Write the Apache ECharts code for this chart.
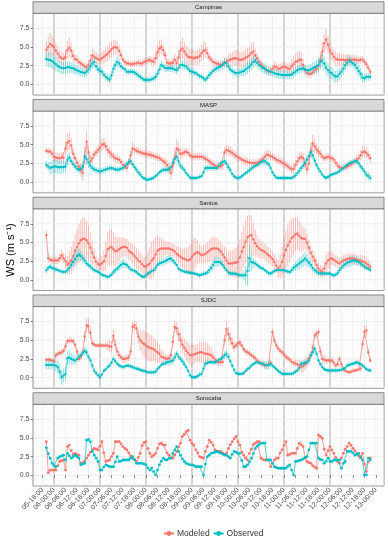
<!DOCTYPE html>
<html><head><meta charset="utf-8">
<script src="https://cdn.jsdelivr.net/npm/echarts@6/dist/echarts.min.js"></script>
<style>html,body{margin:0;padding:0;background:#fff}#c{width:388px;height:538px}</style>
</head><body><div id="c"></div>
<script>
// hours counted from 05-00:00; hourly data start at 05-20:00
const START_HOUR = 20;
const stations = ['Campinas', 'MASP', 'Santos', 'SJDC', 'Sorocaba'];
const tickHours = [18,24,30,36,42,48,54,60,66,72,78,84,90,96,102,108,114,120,126,132,138,144,150,156,162,168,174,180,186,192];
const tickLabels = ['05-18:00','06-00:00','06-06:00','06-12:00','06-18:00','07-00:00','07-06:00','07-12:00','07-18:00','08-00:00','08-06:00','08-12:00','08-18:00','09-00:00','09-06:00','09-12:00','09-18:00','10-00:00','10-06:00','10-12:00','10-18:00','11-00:00','11-06:00','11-12:00','11-18:00','12-00:00','12-06:00','12-12:00','12-18:00','13-00:00'];
const midnightHours = [24,48,72,96,120,144,168];
const yTicks = [0, 2.5, 5, 7.5];
const yMinorTicks = [-1.25, 1.25, 3.75, 6.25, 8.75];

const campinasModeled = [4.6,5.0,5.4,5.2,5.0,4.5,4.1,3.7,3.5,3.4,
 3.6,4.6,4.9,4.5,3.8,3.4,3.3,3.0,2.8,2.6,
 2.4,2.3,2.6,3.2,3.9,3.7,3.5,3.4,3.3,3.5,
 3.7,3.9,4.1,4.4,4.7,4.9,5.0,4.9,4.5,3.9,
 3.3,3.0,2.8,2.8,2.7,2.7,2.8,2.8,2.9,2.8,
 2.8,3.0,3.1,3.2,3.3,3.1,3.0,3.5,4.3,4.8,
 5.0,4.6,3.9,2.9,2.8,2.8,2.9,3.3,2.8,3.6,
 4.5,4.8,4.4,4.0,3.7,3.6,3.6,3.5,3.6,3.6,
 3.8,4.2,4.5,4.6,4.2,3.6,3.3,3.0,2.9,2.8,
 2.7,2.6,2.7,2.9,3.0,3.2,3.3,3.4,3.5,3.5,
 3.4,3.3,3.3,3.4,3.6,3.7,3.9,4.2,4.4,3.9,
 3.5,3.0,2.7,2.4,2.1,1.9,1.7,1.8,2.1,2.4,
 2.3,2.1,2.1,2.3,2.4,2.3,2.1,2.1,2.4,2.7,
 3.0,3.1,3.3,3.3,2.6,1.9,1.5,1.4,1.4,1.6,
 1.9,2.1,2.5,3.3,4.4,5.5,6.0,5.3,4.5,4.1,
 3.7,3.4,3.3,3.3,3.3,3.3,3.2,3.3,3.3,3.3,
 3.3,3.3,3.3,3.2,3.3,3.3,3.0,2.7,2.2,1.7];
const campinasModeledErr = [1.2,1.4,1.5,1.3,1.2,1.0,0.9,0.8,0.8,0.8,
 1.0,1.2,1.3,1.1,0.8,0.6,0.6,0.5,0.5,0.5,
 0.5,0.5,0.6,0.8,0.9,0.8,0.8,0.7,0.7,0.8,
 0.9,1.0,1.0,1.1,1.1,1.0,1.0,0.9,0.8,0.6,
 0.4,0.4,0.4,0.4,0.4,0.4,0.4,0.4,0.5,0.5,
 0.5,0.5,0.5,0.5,0.5,0.6,0.7,0.9,1.0,1.1,
 1.0,0.8,0.6,0.5,0.5,0.5,0.6,0.8,0.9,1.0,
 1.3,1.4,1.3,1.2,1.2,1.1,1.1,1.0,1.0,1.0,
 1.0,1.1,1.2,1.0,0.8,0.6,0.5,0.5,0.5,0.5,
 0.5,0.5,0.5,0.6,0.7,0.8,0.9,1.0,1.0,1.1,
 1.1,1.0,1.0,1.0,1.1,1.2,1.2,1.3,1.3,1.0,
 0.8,0.6,0.6,0.5,0.5,0.5,0.5,0.5,0.5,0.6,
 0.6,0.6,0.6,0.6,0.6,0.6,0.7,0.8,1.0,1.0,
 1.0,1.2,1.2,1.0,0.8,0.6,0.5,0.5,0.5,0.5,
 0.6,0.7,0.8,1.0,1.2,1.2,1.4,1.2,1.0,0.9,
 0.9,0.9,0.9,0.9,0.8,0.8,0.8,0.8,0.7,0.7,
 0.6,0.6,0.6,0.5,0.5,0.5,0.5,0.5,0.4,0.4];
const campinasObserved = [3.4,3.3,3.25,3.1,2.9,2.7,2.45,2.3,2.2,2.15,
 2.2,2.3,2.3,2.2,2.15,2.0,1.9,1.75,1.65,1.6,
 1.5,1.7,2.0,2.4,2.8,3.0,2.4,2.0,1.8,1.7,
 1.3,1.0,0.8,0.6,1.2,2.1,2.6,3.0,2.8,2.4,
 2.2,2.0,1.7,1.7,1.7,1.7,1.6,1.4,1.2,1.0,
 0.8,0.6,0.6,0.6,0.6,0.7,0.8,1.0,1.4,2.0,
 2.6,2.4,2.2,2.15,2.15,2.15,2.1,2.0,1.9,2.2,
 2.6,2.6,2.5,2.4,2.1,1.8,1.7,1.6,1.5,1.3,
 1.1,1.0,0.8,0.6,0.9,1.25,1.5,1.8,2.0,2.15,
 2.3,2.45,2.6,2.9,2.8,2.4,2.0,1.8,1.6,1.5,
 1.5,1.6,1.7,1.8,2.0,2.2,2.4,2.7,3.0,3.2,
 2.9,2.6,2.4,2.2,2.1,1.9,1.8,1.7,1.6,1.5,
 1.4,1.35,1.3,1.25,1.25,1.25,1.25,1.25,1.3,1.5,
 1.7,1.9,2.0,2.1,2.15,2.0,1.9,1.9,2.0,2.15,
 2.3,2.4,2.6,3.0,3.2,2.8,2.2,1.9,1.6,1.5,
 1.2,1.0,1.1,1.4,1.7,2.1,2.6,2.9,3.2,3.0,
 2.8,2.6,2.2,1.8,1.4,0.9,0.8,1.0,1.0,1.0];
const campinasObservedErr = [0.9,1.0,1.0,1.0,0.9,0.9,0.8,0.8,0.8,0.8,
 0.8,0.8,0.8,0.7,0.7,0.7,0.6,0.6,0.6,0.6,
 0.6,0.6,0.6,0.7,0.7,0.7,0.6,0.6,0.6,0.6,
 0.5,0.5,0.5,0.5,0.6,0.7,0.7,0.7,0.6,0.5,
 0.4,0.4,0.4,0.4,0.4,0.4,0.4,0.4,0.4,0.4,
 0.4,0.4,0.4,0.4,0.4,0.4,0.4,0.5,0.5,0.6,
 0.6,0.5,0.5,0.5,0.5,0.5,0.5,0.5,0.5,0.5,
 0.6,0.6,0.6,0.5,0.5,0.5,0.5,0.5,0.4,0.4,
 0.4,0.4,0.4,0.4,0.4,0.5,0.5,0.5,0.5,0.5,
 0.6,0.6,0.6,0.6,0.6,0.5,0.5,0.5,0.5,0.5,
 0.6,0.6,0.6,0.7,0.8,0.8,0.8,0.8,0.8,0.8,
 0.7,0.7,0.7,0.7,0.7,0.6,0.6,0.6,0.6,0.6,
 0.6,0.6,0.6,0.6,0.6,0.6,0.6,0.6,0.6,0.6,
 0.6,0.6,0.6,0.6,0.6,0.6,0.6,0.7,0.7,0.8,
 0.8,0.9,0.9,0.9,0.9,0.9,0.9,0.9,0.8,0.8,
 0.8,0.8,0.8,0.8,0.8,0.8,0.7,0.7,0.7,0.7,
 0.7,0.7,0.8,0.8,0.8,0.7,0.6,0.5,0.5,0.5];

const maspModeled = [4.2,4.1,4.1,3.8,3.4,3.3,3.2,3.2,3.3,3.3,
 4.5,5.3,5.5,4.9,3.8,3.2,2.6,2.1,1.6,1.2,
 3.5,5.4,4.0,2.8,3.2,3.7,4.0,4.3,4.6,5.0,
 5.1,4.8,4.3,4.0,3.7,3.4,3.2,3.1,3.0,2.7,
 2.3,2.1,1.9,2.6,3.6,4.5,4.4,4.2,4.1,4.0,
 3.9,3.8,3.8,3.7,3.7,3.6,3.5,3.4,3.3,3.2,
 3.0,2.8,2.6,2.3,1.8,1.2,2.2,3.4,4.5,4.3,
 3.8,3.8,4.0,4.1,3.9,3.6,3.4,3.4,3.4,3.4,
 3.4,3.4,3.3,3.1,3.0,2.8,2.6,2.4,2.2,2.1,
 2.1,2.1,2.3,4.0,4.3,4.2,4.1,3.9,3.7,3.5,
 3.3,3.2,3.0,2.9,2.8,2.7,2.6,2.55,2.55,2.55,
 2.6,2.7,2.9,3.1,3.4,3.7,3.6,3.5,3.4,3.2,
 3.0,2.9,2.8,2.6,2.5,2.3,2.1,1.9,1.7,1.8,
 2.3,2.8,3.2,3.4,3.2,2.4,1.7,2.5,4.2,5.2,
 4.8,4.4,4.1,3.8,3.4,3.2,3.3,3.4,3.3,3.2,
 3.0,2.6,2.2,2.0,1.9,1.9,2.0,2.1,2.2,2.4,
 2.6,2.8,3.0,3.2,3.6,4.0,4.1,3.9,3.6,3.2];
const maspModeledErr = [0.4,0.4,0.5,0.6,0.7,0.7,0.7,0.7,0.7,0.7,
 0.9,1.2,1.2,1.0,0.8,0.7,0.7,0.8,0.9,1.0,
 1.2,1.4,1.0,0.8,0.7,0.6,0.6,0.6,0.7,0.8,
 0.8,0.7,0.7,0.7,0.6,0.6,0.6,0.6,0.5,0.5,
 0.5,0.5,0.5,0.6,0.7,0.8,0.6,0.5,0.5,0.5,
 0.5,0.5,0.5,0.5,0.5,0.5,0.5,0.5,0.5,0.5,
 0.5,0.5,0.6,0.7,0.8,0.9,1.0,1.1,1.2,1.0,
 0.8,0.6,0.5,0.5,0.5,0.5,0.5,0.5,0.5,0.5,
 0.5,0.5,0.5,0.5,0.5,0.5,0.5,0.5,0.5,0.5,
 0.5,0.5,0.6,0.7,0.7,0.7,0.7,0.6,0.6,0.6,
 0.6,0.5,0.5,0.5,0.5,0.5,0.5,0.5,0.5,0.5,
 0.5,0.5,0.5,0.6,0.7,0.7,0.6,0.6,0.5,0.5,
 0.5,0.5,0.5,0.5,0.5,0.5,0.5,0.5,0.6,0.7,
 0.7,0.7,0.7,0.7,0.7,0.7,0.8,0.9,1.0,1.1,
 1.0,0.8,0.7,0.6,0.5,0.5,0.5,0.5,0.5,0.5,
 0.5,0.5,0.5,0.5,0.5,0.5,0.5,0.5,0.5,0.5,
 0.5,0.5,0.6,0.6,0.7,0.8,0.8,0.7,0.6,0.6];
const maspObserved = [2.3,2.1,1.9,2.0,2.1,2.1,2.0,2.0,2.0,2.0,
 2.1,3.0,3.3,2.8,2.4,2.1,1.8,1.65,1.8,2.1,
 3.4,3.1,2.6,2.2,1.9,1.7,1.6,1.5,1.4,1.5,
 1.6,1.7,1.8,1.85,1.9,1.8,1.7,1.65,1.7,1.8,
 1.9,2.1,2.4,2.7,2.8,2.4,2.0,1.65,1.3,1.0,
 0.7,0.5,0.35,0.3,0.4,0.45,0.6,0.8,1.0,1.3,
 1.5,1.65,1.65,1.65,1.7,2.0,2.6,3.1,3.4,2.8,
 2.2,1.9,1.6,1.2,0.9,0.6,0.55,0.55,0.55,0.6,
 0.7,0.8,1.3,1.9,1.9,1.9,1.9,1.9,1.9,1.9,
 2.2,2.5,2.7,2.8,2.5,2.0,1.6,1.1,0.75,0.6,
 0.55,0.6,0.8,1.0,1.2,1.4,1.6,1.8,2.0,2.2,
 2.3,2.5,2.7,2.8,2.8,2.6,2.4,1.9,1.3,0.9,
 0.6,0.55,0.55,0.55,0.55,0.55,0.55,0.55,0.55,0.7,
 0.9,1.2,1.5,1.9,2.2,2.6,3.0,3.5,4.0,3.6,
 2.9,2.3,1.8,1.4,1.0,0.7,0.55,0.7,0.9,1.0,
 1.1,1.2,1.3,1.5,1.7,1.9,2.1,2.3,2.5,2.6,
 2.7,2.8,2.8,2.5,2.1,1.8,1.4,1.0,0.8,0.55];
const maspObservedErr = [0.5,0.6,0.8,0.9,0.9,0.9,0.9,0.9,0.9,0.8,
 0.7,0.7,0.6,0.5,0.5,0.5,0.5,0.5,0.6,0.7,
 0.8,0.8,0.7,0.6,0.5,0.5,0.4,0.4,0.4,0.4,
 0.4,0.4,0.4,0.4,0.4,0.4,0.4,0.4,0.4,0.4,
 0.4,0.4,0.4,0.4,0.4,0.4,0.4,0.4,0.4,0.4,
 0.3,0.3,0.3,0.3,0.3,0.3,0.3,0.3,0.3,0.3,
 0.4,0.4,0.4,0.4,0.5,0.5,0.6,0.6,0.6,0.5,
 0.4,0.4,0.4,0.3,0.3,0.3,0.3,0.3,0.3,0.3,
 0.3,0.3,0.4,0.4,0.4,0.4,0.4,0.4,0.4,0.4,
 0.5,0.5,0.5,0.5,0.5,0.4,0.4,0.3,0.3,0.3,
 0.3,0.3,0.3,0.3,0.3,0.4,0.4,0.4,0.4,0.4,
 0.4,0.5,0.5,0.5,0.5,0.5,0.4,0.4,0.3,0.3,
 0.3,0.3,0.3,0.3,0.3,0.3,0.3,0.3,0.3,0.3,
 0.4,0.4,0.5,0.5,0.6,0.6,0.6,0.6,0.7,0.6,
 0.5,0.4,0.4,0.3,0.3,0.3,0.3,0.3,0.3,0.3,
 0.3,0.3,0.3,0.4,0.4,0.4,0.4,0.4,0.4,0.4,
 0.4,0.4,0.4,0.4,0.4,0.4,0.4,0.5,0.5,0.5];

const santosModeled = [6.0,2.9,2.7,2.6,2.6,2.6,2.6,2.9,3.3,2.9,
 2.5,2.0,2.3,2.6,3.2,3.9,4.4,4.9,5.3,5.5,
 5.5,5.3,4.9,4.3,3.6,3.0,2.4,2.1,2.0,2.2,
 2.5,3.2,4.1,4.3,4.4,4.1,3.8,3.9,4.1,4.3,
 4.4,4.4,4.3,3.9,3.7,3.5,3.2,2.9,2.6,2.4,
 2.1,1.8,1.8,2.0,2.2,2.6,2.9,3.4,3.9,4.1,
 4.2,4.2,4.2,4.2,4.2,4.1,4.0,3.8,3.5,3.3,
 3.1,2.9,2.8,2.7,2.6,2.7,3.1,3.4,3.6,3.7,
 3.5,3.3,3.4,3.5,3.7,3.9,4.1,4.2,4.2,4.2,
 4.1,3.8,3.4,3.0,2.6,2.2,2.2,2.2,2.3,2.3,
 2.4,3.0,3.8,4.4,5.1,5.7,5.9,6.0,5.4,4.9,
 4.5,4.2,4.0,3.9,3.75,3.5,3.3,3.1,2.8,2.4,
 1.9,1.5,1.8,2.4,3.3,4.0,4.6,5.1,5.6,5.8,
 6.1,6.2,5.9,5.6,5.5,5.5,5.0,4.3,3.6,3.1,
 2.6,2.0,1.5,1.2,1.05,1.5,2.2,2.6,2.8,2.85,
 2.7,2.5,2.3,2.2,2.4,2.6,2.7,2.8,2.85,2.85,
 2.85,2.8,2.7,2.6,2.55,2.45,2.4,2.2,2.0,1.75];
const santosModeledErr = [0.6,0.6,0.5,0.5,0.5,0.5,0.5,0.6,0.7,0.7,
 0.9,1.2,1.5,1.8,2.0,2.2,2.4,2.6,2.7,2.8,
 2.8,2.6,2.4,2.0,1.6,1.2,0.9,0.8,0.8,1.0,
 1.4,1.8,2.2,2.4,2.4,2.2,2.0,1.8,1.6,1.4,
 1.3,1.2,1.2,1.2,1.2,1.3,1.4,1.4,1.4,1.3,
 1.2,1.2,1.4,1.8,2.2,2.5,2.5,2.3,2.0,1.6,
 1.4,1.2,1.0,0.9,0.9,0.9,0.9,0.9,1.0,1.1,
 1.2,1.3,1.4,1.6,1.8,2.0,2.2,2.2,2.0,1.6,
 1.3,1.2,1.2,1.3,1.4,1.5,1.6,1.6,1.5,1.4,
 1.3,1.3,1.3,1.4,1.5,1.6,1.7,1.8,1.9,2.0,
 2.2,2.4,2.6,2.8,2.9,2.9,2.8,2.6,2.2,1.8,
 1.5,1.3,1.2,1.1,1.1,1.1,1.1,1.1,1.0,1.0,
 1.0,1.2,1.6,2.0,2.4,2.6,2.8,2.8,2.7,2.5,
 2.3,2.2,2.0,1.8,1.6,1.4,1.2,1.1,1.0,0.9,
 0.8,0.8,0.8,0.8,0.8,1.0,1.2,1.2,1.0,0.9,
 0.8,0.8,0.8,0.8,0.7,0.7,0.7,0.7,0.7,0.7,
 0.7,0.7,0.7,0.7,0.8,0.8,0.8,0.8,0.7,0.6];
const santosObserved = [1.3,1.6,1.75,1.6,1.5,1.4,1.3,1.2,1.1,1.05,
 1.1,1.3,1.6,2.0,2.4,2.8,3.2,3.4,3.2,2.9,
 2.6,2.2,2.0,1.8,1.5,1.3,1.2,1.05,0.9,0.7,
 0.6,0.5,0.4,0.5,0.7,1.05,1.3,1.5,1.8,2.0,
 2.2,2.1,2.0,1.7,1.4,1.3,1.2,1.05,0.8,0.6,
 0.45,0.4,0.6,0.85,1.0,1.2,1.3,1.6,2.0,2.2,
 2.3,2.4,2.5,2.65,2.8,2.85,2.6,2.3,2.0,1.5,
 1.3,1.2,1.1,1.05,1.0,0.95,0.9,0.85,0.8,0.7,
 0.6,0.7,0.8,0.85,1.0,1.3,1.6,2.0,2.4,2.4,
 2.4,2.3,2.0,1.6,1.3,1.0,0.85,0.85,0.85,0.8,
 0.7,0.6,0.6,0.6,0.6,1.2,2.9,2.4,2.3,2.2,
 2.0,1.8,1.6,1.5,1.3,1.1,0.9,0.85,1.0,1.2,
 1.3,1.3,1.3,1.3,1.3,1.2,1.1,1.05,1.3,1.6,
 1.8,2.0,2.2,2.4,2.6,2.85,2.6,2.3,2.0,1.6,
 1.3,1.1,0.9,0.85,0.85,0.85,0.85,0.85,0.85,0.7,
 0.6,0.7,0.9,1.3,1.6,1.9,2.1,2.3,2.4,2.5,
 2.6,2.6,2.5,2.4,2.2,2.0,1.75,1.6,1.5,1.3];
const santosObservedErr = [0.4,0.4,0.4,0.4,0.4,0.4,0.3,0.3,0.3,0.3,
 0.3,0.4,0.5,0.6,0.7,0.8,0.8,0.8,0.7,0.6,
 0.5,0.5,0.4,0.4,0.4,0.4,0.3,0.3,0.3,0.3,
 0.3,0.3,0.3,0.3,0.3,0.4,0.4,0.4,0.5,0.6,
 0.6,0.5,0.4,0.4,0.4,0.3,0.3,0.3,0.3,0.3,
 0.3,0.3,0.3,0.3,0.3,0.3,0.3,0.4,0.4,0.4,
 0.5,0.5,0.5,0.5,0.5,0.5,0.4,0.4,0.3,0.3,
 0.3,0.3,0.3,0.3,0.3,0.3,0.3,0.3,0.3,0.3,
 0.3,0.3,0.3,0.3,0.4,0.5,0.6,0.7,0.7,0.7,
 0.6,0.5,0.5,0.4,0.3,0.3,0.3,0.3,0.3,0.3,
 0.3,0.3,0.4,0.6,1.2,2.0,1.8,1.2,0.7,0.5,
 0.4,0.4,0.3,0.3,0.3,0.3,0.3,0.3,0.3,0.3,
 0.3,0.3,0.3,0.3,0.3,0.3,0.3,0.3,0.4,0.5,
 0.6,0.7,0.8,0.8,0.9,0.9,0.8,0.7,0.6,0.5,
 0.4,0.4,0.4,0.3,0.3,0.3,0.3,0.3,0.3,0.3,
 0.3,0.3,0.4,0.4,0.5,0.5,0.6,0.6,0.7,0.7,
 0.7,0.6,0.6,0.5,0.5,0.4,0.4,0.3,0.3,0.3];

const sjdcModeled = [2.4,2.4,2.4,2.3,2.15,3.0,3.2,3.3,3.4,3.6,
 4.2,4.9,4.95,4.95,4.9,4.4,3.5,2.5,2.8,3.4,
 5.5,7.0,6.9,6.0,4.6,4.4,4.3,4.3,4.3,4.3,
 4.3,4.3,4.3,4.2,4.1,5.6,4.4,3.5,3.0,2.7,
 2.5,2.5,2.6,2.7,3.5,6.8,7.0,6.6,5.5,5.0,
 4.7,4.5,4.3,4.1,4.0,3.9,3.8,3.6,3.4,3.2,
 2.8,2.7,2.6,2.5,2.6,3.0,4.8,6.8,6.6,5.8,
 5.0,4.4,4.0,3.6,3.3,3.0,3.0,3.1,3.2,3.3,
 3.4,3.4,3.3,3.2,3.2,3.1,3.0,2.7,2.4,2.1,
 2.05,2.05,2.1,5.0,6.5,5.8,5.2,4.6,4.1,4.3,
 4.6,4.7,4.3,3.8,3.5,3.4,3.2,3.0,2.8,2.6,
 2.3,2.1,1.9,1.8,1.6,1.7,1.8,2.0,6.1,5.0,
 4.3,3.9,3.6,3.4,3.1,2.8,2.6,2.4,2.1,2.0,
 1.9,1.8,1.6,1.4,1.5,1.8,2.0,2.6,3.0,4.0,
 5.6,5.9,6.1,3.5,2.5,2.4,2.3,2.3,2.3,2.3,
 2.0,1.6,1.8,2.5,1.8,1.15,0.9,0.8,0.7,0.8,
 0.9,0.95,1.0,1.1,1.2,4.5,6.1,6.3,3.4,2.3];
const sjdcModeledErr = [0.3,0.3,0.3,0.3,0.3,0.4,0.4,0.4,0.4,0.4,
 0.4,0.4,0.4,0.4,0.4,0.4,0.4,0.4,0.4,0.5,
 0.7,0.9,1.0,0.8,0.4,0.3,0.3,0.3,0.3,0.3,
 0.3,0.4,0.6,0.8,0.8,0.9,0.8,0.6,0.5,0.5,
 0.5,0.5,0.5,0.5,0.6,0.6,0.6,0.8,1.0,1.3,
 1.6,1.8,1.9,1.9,1.8,1.8,1.6,1.5,1.4,1.2,
 1.0,0.8,0.6,0.5,0.5,0.6,0.8,0.8,0.8,0.9,
 1.0,1.1,1.2,1.3,1.4,1.4,1.4,1.3,1.2,1.2,
 1.3,1.4,1.5,1.5,1.4,1.2,1.0,0.8,0.6,0.5,
 0.5,0.5,0.5,0.7,1.0,1.0,0.9,0.8,0.6,0.5,
 0.5,0.5,0.4,0.4,0.4,0.4,0.4,0.4,0.4,0.4,
 0.4,0.4,0.4,0.4,0.4,0.4,0.4,0.4,0.5,0.5,
 0.5,0.4,0.4,0.4,0.4,0.4,0.4,0.4,0.4,0.4,
 0.5,0.6,0.7,0.8,0.8,0.8,0.7,0.6,0.5,0.5,
 0.5,0.5,0.5,0.6,0.7,0.6,0.5,0.4,0.4,0.4,
 0.4,0.4,0.4,0.4,0.4,0.4,0.3,0.3,0.3,0.3,
 0.3,0.3,0.3,0.3,0.4,0.6,0.8,0.8,0.5,0.4];
const sjdcObserved = [1.7,1.7,1.7,1.7,1.7,1.6,1.4,0.8,0.05,0.3,
 0.5,2.6,2.7,2.5,2.4,2.3,2.5,2.8,3.0,3.3,
 3.6,3.4,2.8,2.3,1.6,0.9,0.6,0.3,0.05,0.4,
 0.9,1.1,1.4,1.6,2.0,2.5,2.2,1.85,1.6,1.5,
 1.4,1.5,1.6,1.6,1.5,1.4,1.3,1.2,1.15,1.05,
 0.95,0.9,0.8,0.7,0.7,0.7,0.7,0.8,1.15,1.4,
 1.7,1.85,1.9,2.05,2.1,2.2,2.3,2.7,3.2,2.8,
 2.5,2.2,1.8,1.4,0.9,0.3,0.05,0.05,0.05,0.2,
 0.4,0.5,1.2,1.85,1.95,2.05,2.05,2.05,2.05,2.2,
 2.4,2.5,2.7,3.0,3.2,2.8,2.2,1.6,1.0,0.6,
 0.5,0.5,0.5,0.6,0.9,1.15,1.3,1.6,1.8,2.0,
 2.05,2.0,1.9,1.85,1.7,1.6,1.7,1.85,1.6,1.4,
 1.15,0.9,0.7,0.5,0.5,0.5,0.5,0.5,0.5,0.6,
 0.8,0.95,1.3,1.85,1.9,2.0,2.05,2.3,2.95,3.4,
 3.85,3.2,2.3,1.8,1.4,1.15,1.0,0.95,0.95,0.95,
 0.95,0.95,0.95,1.0,1.05,1.15,1.3,1.6,1.7,1.8,
 1.85,1.95,2.05,1.9,1.8,1.6,1.4,1.15,1.0,0.95];
const sjdcObservedErr = [0.6,0.6,0.6,0.6,0.7,0.8,0.9,1.0,1.0,0.9,
 0.9,0.9,0.9,0.8,0.7,0.6,0.5,0.5,0.5,0.5,
 0.5,0.5,0.4,0.4,0.4,0.4,0.3,0.3,0.3,0.3,
 0.3,0.3,0.3,0.3,0.3,0.3,0.3,0.3,0.3,0.3,
 0.3,0.3,0.3,0.3,0.3,0.3,0.3,0.3,0.3,0.3,
 0.3,0.3,0.3,0.3,0.3,0.3,0.3,0.3,0.3,0.3,
 0.3,0.3,0.4,0.4,0.5,0.5,0.5,0.5,0.4,0.4,
 0.4,0.4,0.4,0.3,0.3,0.3,0.3,0.3,0.3,0.3,
 0.3,0.4,0.5,0.5,0.4,0.3,0.3,0.3,0.3,0.3,
 0.3,0.3,0.4,0.5,0.5,0.4,0.3,0.3,0.3,0.3,
 0.3,0.3,0.3,0.3,0.3,0.3,0.3,0.3,0.3,0.3,
 0.3,0.3,0.3,0.4,0.5,0.6,0.6,0.5,0.4,0.3,
 0.3,0.3,0.3,0.3,0.3,0.3,0.3,0.3,0.3,0.3,
 0.3,0.3,0.3,0.4,0.4,0.4,0.4,0.5,0.5,0.5,
 0.5,0.4,0.3,0.3,0.3,0.3,0.3,0.3,0.3,0.3,
 0.3,0.3,0.3,0.3,0.3,0.3,0.3,0.3,0.3,0.3,
 0.3,0.3,0.3,0.3,0.3,0.3,0.3,0.3,0.3,0.3];

const sorocabaModeled = [4.5,0.35,0.7,0.7,0.7,0.7,1.3,1.85,1.95,2.05,
 0.7,3.85,4.05,3.3,2.8,2.95,2.8,2.7,1.6,1.7,
 1.85,2.3,2.7,3.1,3.4,3.6,3.5,3.4,3.9,4.5,
 3.0,1.85,1.95,2.05,2.5,2.95,4.5,4.5,4.5,4.2,
 3.85,3.6,3.4,3.0,2.6,2.3,2.1,1.85,2.4,2.95,
 4.0,4.4,4.5,3.6,2.95,2.5,2.7,2.95,3.6,4.2,
 4.3,4.05,4.05,3.0,2.7,2.3,2.3,2.7,3.2,3.8,
 4.3,5.2,5.5,5.85,6.0,4.7,4.3,4.05,3.4,3.0,
 2.5,2.4,2.3,3.2,3.85,4.7,4.4,4.05,3.4,3.2,
 3.2,3.2,3.0,2.7,3.0,3.6,4.1,4.5,4.9,5.2,
 4.5,4.05,3.1,2.7,2.3,2.05,2.95,3.5,4.1,4.3,
 4.5,4.5,2.3,2.1,2.05,2.05,2.05,1.15,1.6,2.05,
 2.3,2.3,3.0,3.4,4.0,4.5,2.7,2.8,2.95,2.95,
 2.95,3.6,4.3,4.1,3.85,2.3,1.85,1.7,1.6,1.3,
 1.1,0.95,5.4,5.2,4.95,3.5,2.7,3.3,3.85,3.4,
 2.95,2.4,1.85,1.6,2.3,2.95,3.5,3.85,4.3,4.0,
 3.6,3.3,2.95,2.6,2.3,2.95,1.5,0.5,1.8,2.3];
const sorocabaObserved = [3.7,2.9,2.3,1.6,1.3,1.15,2.3,2.5,2.6,2.7,
 2.05,2.95,2.6,2.3,2.5,2.7,2.5,2.3,1.4,1.5,
 1.6,4.7,4.8,4.5,3.2,2.7,2.3,1.85,0.7,0.7,
 1.1,1.4,1.3,1.15,1.15,1.15,1.8,2.5,1.85,1.9,
 2.05,2.05,2.05,2.05,2.3,2.5,2.1,1.6,1.6,1.6,
 1.6,1.5,1.4,1.0,0.7,0.95,0.5,0.05,0.7,1.4,
 1.9,2.3,2.1,2.05,2.3,2.3,2.95,3.4,3.85,3.2,
 2.7,2.2,1.85,1.6,1.5,1.4,1.4,1.3,1.15,1.15,
 1.15,1.15,0.05,1.5,2.5,2.7,2.95,3.0,3.1,3.2,
 3.1,2.95,2.85,2.8,2.7,2.5,2.3,2.8,3.2,3.1,
 2.95,2.95,2.0,1.15,1.15,1.4,1.8,2.3,2.9,3.6,
 3.9,4.1,4.3,4.3,4.3,2.05,2.05,2.05,1.6,1.15,
 1.05,0.95,0.95,0.95,0.95,0.95,1.2,1.4,0.7,0.05,
 1.85,1.9,2.0,2.05,2.2,2.4,2.5,3.4,4.3,4.3,
 4.3,4.3,2.3,2.1,2.05,1.6,1.9,2.3,1.85,1.85,
 2.05,2.05,2.05,2.05,0.95,1.6,1.85,3.2,3.2,3.2,
 3.0,2.7,2.8,2.95,2.5,2.05,0.05,0.05,2.3,2.05];

// ---------- chart construction ----------
const FONT = '"Liberation Sans", Arial, Helvetica, sans-serif';
const RED = '#F8766D', CYAN = '#00BFC4';
const X_MIN = 13.04, X_MAX = 196.2, Y_MIN = -1.43, Y_MAX = 9.51;
const PANEL_LEFT = 33, PANEL_W = 351, PANEL_H = 81.7, PANEL_TOP0 = 13.3, PANEL_STEP = 97.75, STRIP_H = 11.6;

const panelData = [
  {mod: campinasModeled, modErr: campinasModeledErr, obs: campinasObserved, obsErr: campinasObservedErr, sym: 2.4},
  {mod: maspModeled, modErr: maspModeledErr, obs: maspObserved, obsErr: maspObservedErr, sym: 2.4},
  {mod: santosModeled, modErr: santosModeledErr, obs: santosObserved, obsErr: santosObservedErr, sym: 2.4},
  {mod: sjdcModeled, modErr: sjdcModeledErr, obs: sjdcObserved, obsErr: sjdcObservedErr, sym: 2.4},
  {mod: sorocabaModeled, modErr: null, obs: sorocabaObserved, obsErr: null, sym: 2.8}
];

// gridline definitions: [kind, value]; 0 minor vertical, 1 major vertical, 2 midnight, 3 major horiz, 4 minor horiz
const gridDefs = [];
for (let h = 14; h <= 196; h++) gridDefs.push([h % 6 === 0 ? 1 : 0, h]);
midnightHours.forEach(h => gridDefs.push([2, h]));
yTicks.forEach(v => gridDefs.push([3, v]));
yMinorTicks.forEach(v => gridDefs.push([4, v]));
const GRID_STYLE = [
  {c: '#f4f4f4', w: 0.5}, {c: '#ebebeb', w: 0.8}, {c: '#bfbfbf', w: 1.3},
  {c: '#ebebeb', w: 0.8}, {c: '#f4f4f4', w: 0.5}
];
function renderGrid(params, api) {
  const kind = api.value(0), v = api.value(1);
  const cs = params.coordSys;
  const st = GRID_STYLE[kind];
  let shape;
  if (kind < 3) {
    const p = api.coord([v, 0]);
    shape = {x1: p[0], y1: cs.y, x2: p[0], y2: cs.y + cs.height};
  } else {
    const p = api.coord([X_MIN, v]);
    shape = {x1: cs.x, y1: p[1], x2: cs.x + cs.width, y2: p[1]};
  }
  return {type: 'line', shape, style: {stroke: st.c, lineWidth: st.w}, silent: true};
}
function makeErrRender(color) {
  return function (params, api) {
    const a = api.coord([api.value(0), api.value(1)]);
    const b = api.coord([api.value(0), api.value(2)]);
    return {type: 'line', shape: {x1: a[0], y1: a[1], x2: b[0], y2: b[1]},
      style: {stroke: color, lineWidth: 1, opacity: 0.45}, silent: true};
  };
}
const toPairs = arr => arr.map((v, i) => [START_HOUR + i, v]);
const toErr = (arr, err) => arr.map((v, i) => [START_HOUR + i, v - err[i], v + err[i]]);

const grids = [], xAxes = [], yAxes = [], series = [], graphics = [];
stations.forEach((name, i) => {
  const top = PANEL_TOP0 + PANEL_STEP * i;
  const last = i === stations.length - 1;
  grids.push({left: PANEL_LEFT, top, width: PANEL_W, height: PANEL_H, show: true,
    backgroundColor: '#fff', borderColor: '#5e5e5e', borderWidth: 0.7});
  xAxes.push({type: 'value', gridIndex: i, min: X_MIN, max: X_MAX,
    axisLine: {show: false}, splitLine: {show: false},
    axisTick: {show: last, customValues: tickHours, length: 2.5, lineStyle: {color: '#333', width: 0.6}},
    axisLabel: {show: last, customValues: tickHours, rotate: 45, fontSize: 7, color: '#4d4d4d',
      margin: 3, fontFamily: FONT, formatter: v => tickLabels[tickHours.indexOf(v)]}});
  yAxes.push({type: 'value', gridIndex: i, min: Y_MIN, max: Y_MAX,
    axisLine: {show: false}, splitLine: {show: false},
    axisTick: {show: true, customValues: yTicks, length: 2.5, lineStyle: {color: '#333', width: 0.6}},
    axisLabel: {show: true, customValues: yTicks, fontSize: 7, color: '#4d4d4d', margin: 3.5,
      fontFamily: FONT, formatter: v => v.toFixed(1)}});
  series.push({type: 'custom', xAxisIndex: i, yAxisIndex: i, data: gridDefs, renderItem: renderGrid,
    silent: true, z: 0, animation: false});
  const d = panelData[i];
  if (d.modErr) series.push({type: 'custom', xAxisIndex: i, yAxisIndex: i, clip: true,
    data: toErr(d.mod, d.modErr), encode: {x: 0, y: [1, 2]}, renderItem: makeErrRender(RED), z: 1, animation: false});
  if (d.obsErr) series.push({type: 'custom', xAxisIndex: i, yAxisIndex: i, clip: true,
    data: toErr(d.obs, d.obsErr), encode: {x: 0, y: [1, 2]}, renderItem: makeErrRender(CYAN), z: 1, animation: false});
  series.push({name: 'Modeled', type: 'line', xAxisIndex: i, yAxisIndex: i, data: toPairs(d.mod),
    symbol: 'circle', symbolSize: d.sym, showSymbol: true, lineStyle: {width: 0.7, color: RED},
    itemStyle: {color: RED}, z: 3, animation: false, clip: true});
  series.push({name: 'Observed', type: 'line', xAxisIndex: i, yAxisIndex: i, data: toPairs(d.obs),
    symbol: 'circle', symbolSize: d.sym, showSymbol: true, lineStyle: {width: 0.7, color: CYAN},
    itemStyle: {color: CYAN}, z: 4, animation: false, clip: true});
  const stripTop = PANEL_TOP0 - STRIP_H + PANEL_STEP * i;
  graphics.push({type: 'rect', shape: {x: PANEL_LEFT, y: stripTop, width: PANEL_W, height: STRIP_H},
    style: {fill: '#d9d9d9', stroke: '#5e5e5e', lineWidth: 0.7}, z: 10});
  graphics.push({type: 'text', x: PANEL_LEFT + PANEL_W / 2, y: stripTop + STRIP_H / 2,
    style: {text: name, fontSize: 6, fill: '#1a1a1a', align: 'center', verticalAlign: 'middle', fontFamily: FONT}, z: 11});
});
graphics.push({type: 'text', x: 11, y: 250, rotation: Math.PI / 2,
  style: {text: 'WS (m s⁻¹)', fontSize: 11, fill: '#000', align: 'center', verticalAlign: 'middle', fontFamily: FONT}});

const chart = echarts.init(document.getElementById('c'), null, {renderer: 'canvas'});
chart.setOption({
  animation: false,
  backgroundColor: '#fff',
  textStyle: {fontFamily: FONT},
  grid: grids, xAxis: xAxes, yAxis: yAxes, series,
  legend: {data: ['Modeled', 'Observed'], bottom: 0, left: 163, padding: 0, itemWidth: 10, itemHeight: 6, itemGap: 3,
    textStyle: {fontSize: 8.5, color: '#333', fontFamily: FONT, padding: [0, 0, 0, -2]}, selectedMode: false},
  graphic: graphics
});
</script></body></html>
